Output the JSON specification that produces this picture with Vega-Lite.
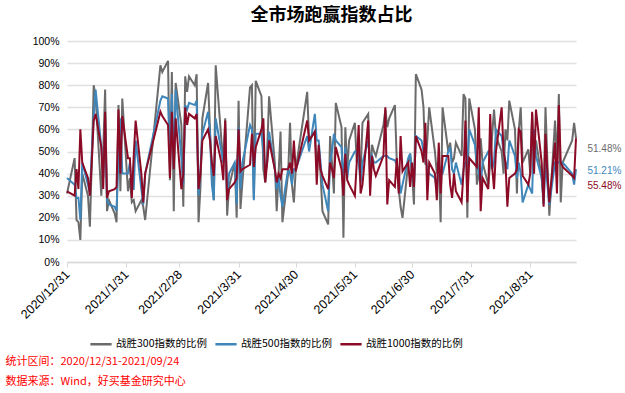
{
  "$schema": "https://vega.github.io/schema/vega-lite/v6.json",
  "width": 509,
  "height": 221,
  "autosize": {"type": "none"},
  "padding": {"left": 67, "top": 41, "right": 49, "bottom": 131},
  "background": "white",
  "title": {"text": "全市场跑赢指数占比", "font": "Noto Sans CJK SC", "fontSize": 18, "fontWeight": "bold", "color": "#000000", "anchor": "middle", "frame": "group", "offset": 11, "dx": 10},
  "config": {"view": {"stroke": null}},
  "encoding": {
    "x": {
      "field": "d", "type": "temporal",
      "scale": {"type": "utc", "domain": [{"year": 2020, "month": 12, "date": 31, "utc": true}, {"year": 2021, "month": 9, "date": 24, "utc": true}]},
      "axis": {
        "values": [
          {"year": 2020, "month": 12, "date": 31, "utc": true},
          {"year": 2021, "month": 1, "date": 31, "utc": true},
          {"year": 2021, "month": 2, "date": 28, "utc": true},
          {"year": 2021, "month": 3, "date": 31, "utc": true},
          {"year": 2021, "month": 4, "date": 30, "utc": true},
          {"year": 2021, "month": 5, "date": 31, "utc": true},
          {"year": 2021, "month": 6, "date": 30, "utc": true},
          {"year": 2021, "month": 7, "date": 31, "utc": true},
          {"year": 2021, "month": 8, "date": 31, "utc": true}
        ],
        "tickCount": 20,
        "format": "%Y/%-m/%-d",
        "labelAngle": -45,
        "labelAlign": "right",
        "labelBaseline": "middle",
        "labelFont": "Liberation Sans",
        "labelFontSize": 12.5,
        "labelColor": "#000000",
        "labelPadding": 5,
        "labelOverlap": false,
        "labelFlush": false,
        "grid": false,
        "tickSize": 5,
        "tickColor": "#d9d9d9",
        "tickWidth": 1,
        "domainColor": "#d9d9d9",
        "domainWidth": 1.5,
        "title": ["统计区间：2020/12/31-2021/09/24", "数据来源：Wind，好买基金研究中心"],
        "titleFont": "Noto Sans CJK SC",
        "titleFontSize": 11,
        "titleFontWeight": "normal",
        "titleColor": "#ff0000",
        "titleAlign": "left",
        "titleAnchor": "start",
        "titleBaseline": "top",
        "titleX": -62,
        "titleY": 93,
        "titleLineHeight": 20
      }
    },
    "y": {
      "field": "v", "type": "quantitative",
      "scale": {"domain": [0, 100]},
      "axis": {
        "values": [0, 10, 20, 30, 40, 50, 60, 70, 80, 90, 100],
        "tickCount": 20,
        "labelExpr": "datum.value + '%'",
        "labelFont": "Liberation Sans",
        "labelFontSize": 10.5,
        "labelColor": "#000000",
        "labelPadding": 8,
        "labelOverlap": false,
        "ticks": false,
        "domain": false,
        "grid": true,
        "gridColor": "#e0e0e0",
        "gridWidth": 1.5,
        "title": null
      }
    },
    "color": {
      "field": "k", "type": "nominal",
      "scale": {"domain": ["a", "b", "c"], "range": ["#6b6b6b", "#3f86ba", "#8b0a25"]},
      "legend": {
        "orient": "none",
        "legendX": 22,
        "legendY": 291,
        "direction": "horizontal",
        "title": null,
        "symbolType": "stroke",
        "symbolSize": 450,
        "symbolStrokeWidth": 2.5,
        "labelFont": "Noto Sans CJK SC",
        "labelFontSize": 10.5,
        "labelColor": "#000000",
        "labelOffset": 3,
        "columnPadding": 3,
        "labelExpr": "datum.value == 'a' ? '战胜300指数的比例' : datum.value == 'b' ? '战胜500指数的比例' : '战胜1000指数的比例'"
      }
    }
  },
  "layer": [
    {
      "data": {"values": [
        {"d":"2020-12-31","a":31,"b":38,"c":32},
        {"d":"2021-01-04","a":47,"b":35,"c":30},
        {"d":"2021-01-05","a":19,"b":29,"c":42},
        {"d":"2021-01-06","a":18,"b":29,"c":33},
        {"d":"2021-01-07","a":10,"b":19,"c":60},
        {"d":"2021-01-08","a":40,"b":45,"c":45},
        {"d":"2021-01-11","a":30,"b":35,"c":38},
        {"d":"2021-01-12","a":16,"b":31,"c":30},
        {"d":"2021-01-13","a":45,"b":50,"c":45},
        {"d":"2021-01-14","a":80,"b":66,"c":64},
        {"d":"2021-01-15","a":75,"b":78,"c":67},
        {"d":"2021-01-18","a":30,"b":52,"c":52},
        {"d":"2021-01-19","a":50,"b":38,"c":33},
        {"d":"2021-01-20","a":78,"b":60,"c":68},
        {"d":"2021-01-21","a":23,"b":28,"c":29},
        {"d":"2021-01-22","a":28,"b":26,"c":32},
        {"d":"2021-01-25","a":22,"b":25,"c":33},
        {"d":"2021-01-26","a":18,"b":23,"c":34},
        {"d":"2021-01-27","a":71,"b":47,"c":69},
        {"d":"2021-01-28","a":32,"b":65,"c":40},
        {"d":"2021-01-29","a":74,"b":40,"c":66},
        {"d":"2021-02-01","a":32,"b":40,"c":47},
        {"d":"2021-02-02","a":38,"b":45,"c":47},
        {"d":"2021-02-03","a":27,"b":33,"c":29},
        {"d":"2021-02-04","a":28,"b":33,"c":48},
        {"d":"2021-02-05","a":23,"b":55,"c":64},
        {"d":"2021-02-08","a":28,"b":33,"c":40},
        {"d":"2021-02-09","a":25,"b":26,"c":27},
        {"d":"2021-02-10","a":19,"b":40,"c":40},
        {"d":"2021-02-18","a":89,"b":73,"c":68},
        {"d":"2021-02-19","a":86,"b":75,"c":66},
        {"d":"2021-02-22","a":91,"b":74,"c":62},
        {"d":"2021-02-23","a":37,"b":45,"c":38},
        {"d":"2021-02-24","a":86,"b":76,"c":68},
        {"d":"2021-02-25","a":23,"b":42,"c":42},
        {"d":"2021-02-26","a":81,"b":78,"c":65},
        {"d":"2021-03-01","a":62,"b":47,"c":33},
        {"d":"2021-03-02","a":25,"b":35,"c":40},
        {"d":"2021-03-03","a":84,"b":71,"c":70},
        {"d":"2021-03-04","a":77,"b":69,"c":62},
        {"d":"2021-03-05","a":84,"b":72,"c":67},
        {"d":"2021-03-08","a":80,"b":71,"c":65},
        {"d":"2021-03-09","a":85,"b":73,"c":67},
        {"d":"2021-03-10","a":18,"b":30,"c":33},
        {"d":"2021-03-11","a":34,"b":42,"c":40},
        {"d":"2021-03-12","a":65,"b":58,"c":55},
        {"d":"2021-03-15","a":81,"b":68,"c":60},
        {"d":"2021-03-16","a":60,"b":58,"c":55},
        {"d":"2021-03-17","a":40,"b":35,"c":45},
        {"d":"2021-03-18","a":28,"b":28,"c":39},
        {"d":"2021-03-19","a":89,"b":65,"c":57},
        {"d":"2021-03-22","a":55,"b":50,"c":45},
        {"d":"2021-03-23","a":45,"b":45,"c":37},
        {"d":"2021-03-24","a":65,"b":60,"c":64},
        {"d":"2021-03-25","a":21,"b":29,"c":28},
        {"d":"2021-03-26","a":34,"b":40,"c":33},
        {"d":"2021-03-29","a":45,"b":45,"c":36},
        {"d":"2021-03-30","a":20,"b":26,"c":38},
        {"d":"2021-03-31","a":73,"b":61,"c":60},
        {"d":"2021-04-01","a":24,"b":33,"c":41},
        {"d":"2021-04-02","a":36,"b":45,"c":42},
        {"d":"2021-04-06","a":79,"b":62,"c":44},
        {"d":"2021-04-07","a":80,"b":60,"c":58},
        {"d":"2021-04-08","a":29,"b":28,"c":43},
        {"d":"2021-04-09","a":82,"b":58,"c":52},
        {"d":"2021-04-12","a":75,"b":58,"c":60},
        {"d":"2021-04-13","a":42,"b":50,"c":65},
        {"d":"2021-04-14","a":36,"b":40,"c":36},
        {"d":"2021-04-15","a":50,"b":45,"c":45},
        {"d":"2021-04-16","a":75,"b":59,"c":55},
        {"d":"2021-04-19","a":45,"b":42,"c":42},
        {"d":"2021-04-20","a":23,"b":33,"c":36},
        {"d":"2021-04-21","a":40,"b":38,"c":40},
        {"d":"2021-04-22","a":59,"b":30,"c":38},
        {"d":"2021-04-23","a":18,"b":25,"c":42},
        {"d":"2021-04-26","a":40,"b":42,"c":42},
        {"d":"2021-04-27","a":63,"b":40,"c":45},
        {"d":"2021-04-28","a":35,"b":35,"c":40},
        {"d":"2021-04-29","a":27,"b":42,"c":55},
        {"d":"2021-04-30","a":42,"b":42,"c":41},
        {"d":"2021-05-06","a":77,"b":57,"c":64},
        {"d":"2021-05-07","a":55,"b":50,"c":55},
        {"d":"2021-05-10","a":59,"b":67,"c":59},
        {"d":"2021-05-11","a":45,"b":55,"c":35},
        {"d":"2021-05-12","a":50,"b":55,"c":53},
        {"d":"2021-05-13","a":40,"b":45,"c":42},
        {"d":"2021-05-14","a":23,"b":35,"c":39},
        {"d":"2021-05-17","a":17,"b":23,"c":33},
        {"d":"2021-05-18","a":57,"b":45,"c":45},
        {"d":"2021-05-19","a":45,"b":50,"c":42},
        {"d":"2021-05-20","a":31,"b":58,"c":38},
        {"d":"2021-05-21","a":72,"b":55,"c":52},
        {"d":"2021-05-24","a":61,"b":52,"c":42},
        {"d":"2021-05-25","a":11,"b":35,"c":30},
        {"d":"2021-05-26","a":61,"b":52,"c":49},
        {"d":"2021-05-27","a":42,"b":38,"c":37},
        {"d":"2021-05-28","a":55,"b":45,"c":35},
        {"d":"2021-05-31","a":63,"b":50,"c":30},
        {"d":"2021-06-01","a":45,"b":50,"c":45},
        {"d":"2021-06-02","a":50,"b":45,"c":62},
        {"d":"2021-06-03","a":40,"b":36,"c":31},
        {"d":"2021-06-04","a":63,"b":45,"c":35},
        {"d":"2021-06-07","a":67,"b":55,"c":64},
        {"d":"2021-06-08","a":38,"b":45,"c":30},
        {"d":"2021-06-09","a":53,"b":48,"c":48},
        {"d":"2021-06-10","a":50,"b":45,"c":42},
        {"d":"2021-06-11","a":48,"b":45,"c":39},
        {"d":"2021-06-15","a":62,"b":48,"c":48},
        {"d":"2021-06-16","a":69,"b":48,"c":70},
        {"d":"2021-06-17","a":61,"b":48,"c":26},
        {"d":"2021-06-18","a":65,"b":47,"c":37},
        {"d":"2021-06-21","a":71,"b":46,"c":34},
        {"d":"2021-06-22","a":45,"b":44,"c":47},
        {"d":"2021-06-23","a":33,"b":40,"c":31},
        {"d":"2021-06-24","a":25,"b":31,"c":57},
        {"d":"2021-06-25","a":20,"b":35,"c":41},
        {"d":"2021-06-28","a":45,"b":47,"c":45},
        {"d":"2021-06-29","a":49,"b":49,"c":34},
        {"d":"2021-06-30","a":40,"b":40,"c":45},
        {"d":"2021-07-01","a":26,"b":35,"c":34},
        {"d":"2021-07-02","a":85,"b":57,"c":57},
        {"d":"2021-07-05","a":78,"b":55,"c":50},
        {"d":"2021-07-06","a":70,"b":50,"c":45},
        {"d":"2021-07-07","a":44,"b":49,"c":63},
        {"d":"2021-07-08","a":55,"b":42,"c":28},
        {"d":"2021-07-09","a":70,"b":40,"c":45},
        {"d":"2021-07-12","a":50,"b":38,"c":40},
        {"d":"2021-07-13","a":40,"b":33,"c":28},
        {"d":"2021-07-14","a":45,"b":45,"c":54},
        {"d":"2021-07-15","a":18,"b":40,"c":31},
        {"d":"2021-07-16","a":70,"b":40,"c":48},
        {"d":"2021-07-19","a":50,"b":50,"c":48},
        {"d":"2021-07-20","a":54,"b":52,"c":35},
        {"d":"2021-07-21","a":45,"b":42,"c":29},
        {"d":"2021-07-22","a":47,"b":40,"c":40},
        {"d":"2021-07-23","a":54,"b":45,"c":32},
        {"d":"2021-07-26","a":48,"b":35,"c":27},
        {"d":"2021-07-27","a":76,"b":42,"c":41},
        {"d":"2021-07-28","a":74,"b":45,"c":64},
        {"d":"2021-07-29","a":20,"b":45,"c":27},
        {"d":"2021-07-30","a":74,"b":60,"c":47},
        {"d":"2021-08-02","a":60,"b":53,"c":44},
        {"d":"2021-08-03","a":35,"b":45,"c":43},
        {"d":"2021-08-04","a":40,"b":40,"c":70},
        {"d":"2021-08-05","a":56,"b":35,"c":23},
        {"d":"2021-08-06","a":45,"b":45,"c":38},
        {"d":"2021-08-09","a":35,"b":50,"c":33},
        {"d":"2021-08-10","a":45,"b":48,"c":67},
        {"d":"2021-08-11","a":57,"b":42,"c":43},
        {"d":"2021-08-12","a":69,"b":45,"c":33},
        {"d":"2021-08-13","a":57,"b":60,"c":50},
        {"d":"2021-08-16","a":50,"b":57,"c":70},
        {"d":"2021-08-17","a":40,"b":50,"c":50},
        {"d":"2021-08-18","a":60,"b":45,"c":45},
        {"d":"2021-08-19","a":55,"b":42,"c":25},
        {"d":"2021-08-20","a":73,"b":55,"c":38},
        {"d":"2021-08-23","a":60,"b":48,"c":40},
        {"d":"2021-08-24","a":31,"b":38,"c":42},
        {"d":"2021-08-25","a":60,"b":45,"c":60},
        {"d":"2021-08-26","a":70,"b":40,"c":59},
        {"d":"2021-08-27","a":45,"b":27,"c":39},
        {"d":"2021-08-30","a":51,"b":35,"c":35},
        {"d":"2021-08-31","a":40,"b":33,"c":40},
        {"d":"2021-09-01","a":67,"b":31,"c":68},
        {"d":"2021-09-02","a":45,"b":60,"c":40},
        {"d":"2021-09-03","a":55,"b":48,"c":69},
        {"d":"2021-09-06","a":38,"b":38,"c":45},
        {"d":"2021-09-07","a":28,"b":26,"c":25},
        {"d":"2021-09-08","a":70,"b":45,"c":58},
        {"d":"2021-09-09","a":45,"b":35,"c":40},
        {"d":"2021-09-10","a":21,"b":26,"c":27},
        {"d":"2021-09-13","a":64,"b":45,"c":54},
        {"d":"2021-09-14","a":45,"b":45,"c":31},
        {"d":"2021-09-15","a":76,"b":45,"c":71},
        {"d":"2021-09-16","a":27,"b":45,"c":45},
        {"d":"2021-09-17","a":45,"b":45,"c":43},
        {"d":"2021-09-22","a":55,"b":40,"c":39},
        {"d":"2021-09-23","a":63,"b":35,"c":38},
        {"d":"2021-09-24","a":56,"b":42,"c":56}
      ]},
      "transform": [{"fold": ["a", "b", "c"], "as": ["k", "v"]}],
      "mark": {"type": "line", "strokeWidth": 2}
    },
    {
      "data": {"values": [
        {"d": "2021-09-30", "v": 51.1, "t": "51.48%", "k": "a"},
        {"d": "2021-09-30", "v": 41.3, "t": "51.21%", "k": "b"},
        {"d": "2021-09-30", "v": 34.5, "t": "55.48%", "k": "c"}
      ]},
      "mark": {"type": "text", "align": "left", "baseline": "middle", "font": "Liberation Sans", "fontSize": 10},
      "encoding": {
        "text": {"field": "t"}
      }
    }
  ]
}
